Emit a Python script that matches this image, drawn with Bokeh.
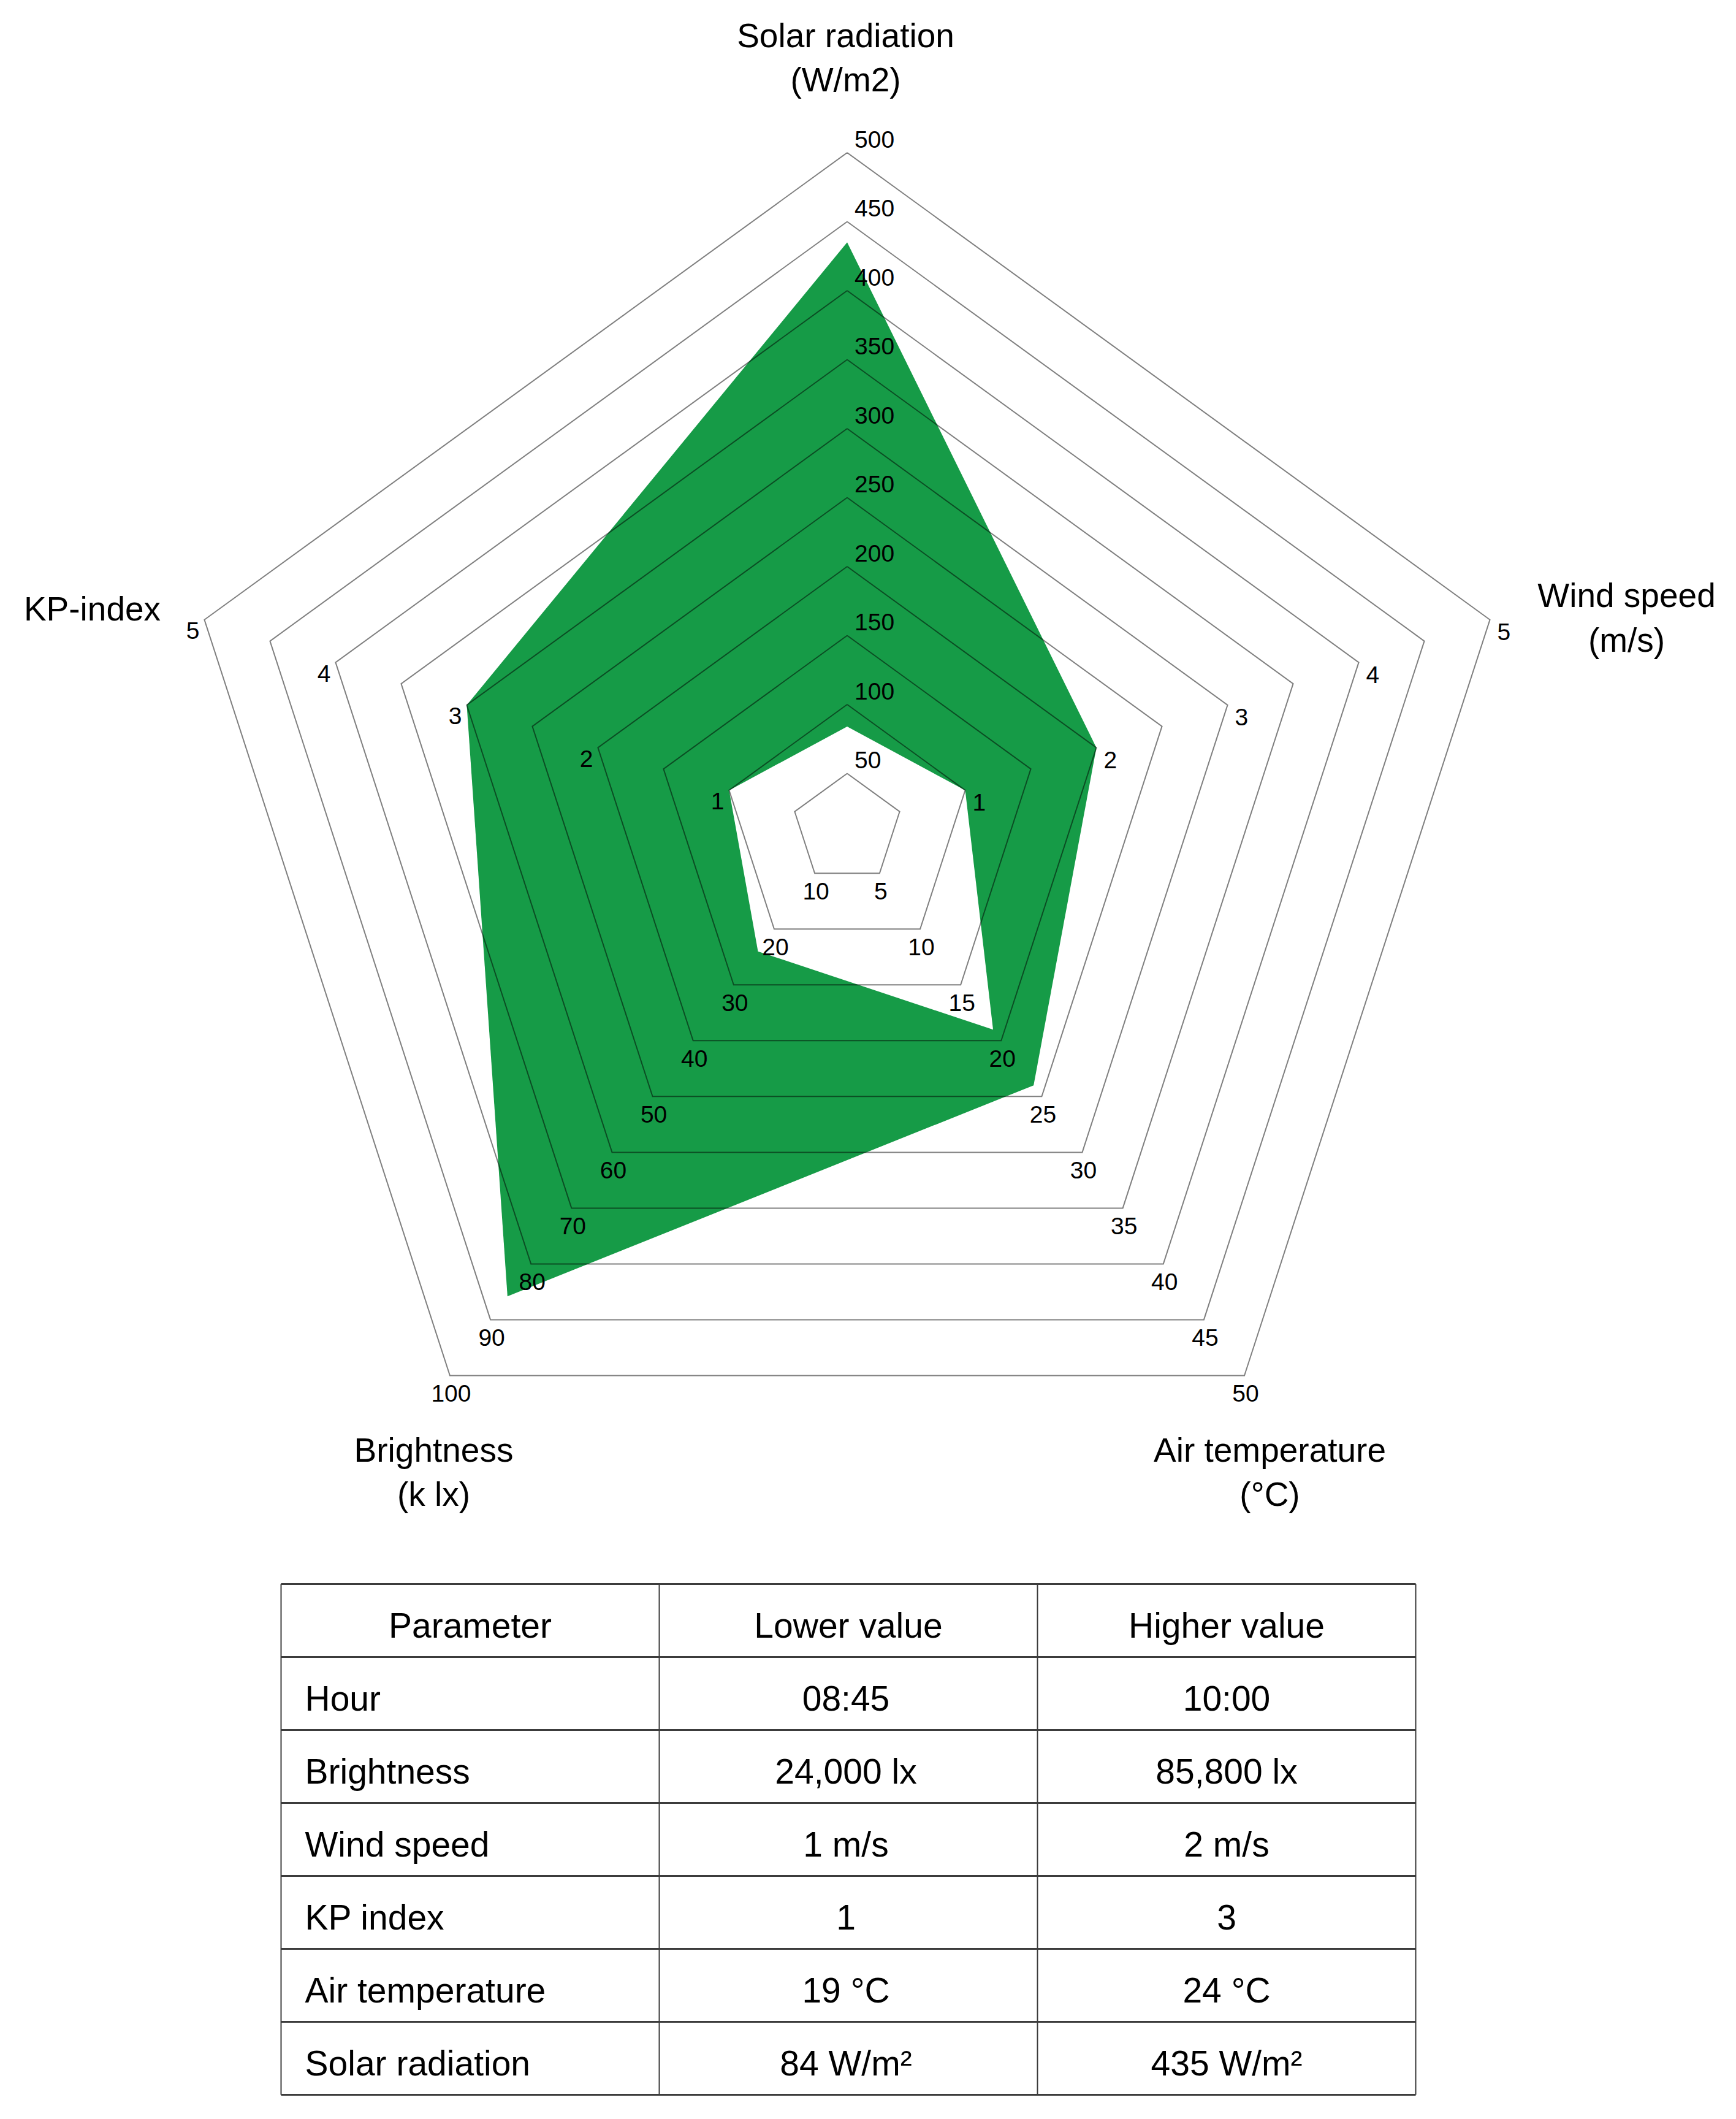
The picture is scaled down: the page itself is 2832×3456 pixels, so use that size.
import numpy as np
from bokeh.plotting import figure
from bokeh.models import Range1d
from bokeh.core.properties import value
from bokeh.embed import file_html
from bokeh.resources import INLINE

# ---------------- data ----------------
axis_names = ["Solar radiation", "Wind speed", "Air temperature", "Brightness", "KP-index"]
axis_units = ["(W/m2)", "(m/s)", "(°C)", "(k lx)", ""]
axis_max = [500, 5, 50, 100, 5]
lower_values = [84, 1, 19, 24, 1]
higher_values = [435, 2, 24, 85.8, 3]

ring_levels = [50, 100, 150, 200, 250, 300, 350, 400, 450, 500]   # gridlines (solar scale)
solar_ticks = [50, 100, 150, 200, 250, 300, 350, 400, 450, 500]
wind_ticks = [1, 2, 3, 4, 5]
air_ticks = [5, 10, 15, 20, 25, 30, 35, 40, 45, 50]
brightness_ticks = [10, 20, 30, 40, 50, 60, 70, 80, 90, 100]
kp_ticks = [1, 2, 3, 4, 5]

table_header = ["Parameter", "Lower value", "Higher value"]
table_params = ["Hour", "Brightness", "Wind speed", "KP index", "Air temperature", "Solar radiation"]
table_lower = ["08:45", "24,000 lx", "1 m/s", "1", "19 °C", "84 W/m²"]
table_higher = ["10:00", "85,800 lx", "2 m/s", "3", "24 °C", "435 W/m²"]

# ---------------- layout ----------------
W, H = 2816, 3440
CX, CY, R = 1381.5, 1351.0, 1102.5
R_MIN = 0.02          # radial axis starts slightly above zero
FONT = value("Liberation Sans")
GREEN = "#169B47"

angles = [np.pi / 2 - 2 * np.pi * i / 5 for i in range(5)]


def radial(frac):
    return R * (frac - R_MIN) / (1 - R_MIN)


def point(i, frac):
    r = radial(frac)
    return CX + r * np.cos(angles[i]), CY - r * np.sin(angles[i])


p = figure(width=W, height=H, output_backend="svg", toolbar_location=None,
           x_range=Range1d(0, W), y_range=Range1d(H, 0),
           min_border=0, outline_line_color=None,
           background_fill_color="white", border_fill_color="white")
p.axis.visible = False
p.grid.visible = False

# filled areas
hx, hy = zip(*[point(i, higher_values[i] / axis_max[i]) for i in range(5)])
lx, ly = zip(*[point(i, lower_values[i] / axis_max[i]) for i in range(5)])
p.patch(list(hx), list(hy), fill_color=GREEN, line_color=None)
p.patch(list(lx), list(ly), fill_color="white", line_color=None)

# rings
ring_xs, ring_ys = [], []
for lv in ring_levels:
    pts = [point(i, lv / ring_levels[-1]) for i in range(5)]
    pts.append(pts[0])
    ring_xs.append([q[0] for q in pts])
    ring_ys.append([q[1] for q in pts])
p.multi_line(ring_xs, ring_ys, line_color="black", line_alpha=0.5, line_width=2,
             line_join="miter")

# tick labels for each axis
tick_sets = [
    (0, solar_ticks, 500, 12, -22, "left"),
    (1, wind_ticks, 5, 12, 20, "left"),
    (2, air_ticks, 50, 2, 29, "center"),
    (3, brightness_ticks, 100, 2, 29, "center"),
    (4, kp_ticks, 5, -8, 18, "right"),
]
for i, ticks, mx, dx, dy, align in tick_sets:
    xs, ys = [], []
    for t in ticks:
        x, y = point(i, t / mx)
        xs.append(x + dx)
        ys.append(y + dy)
    p.text(xs, ys, text=[str(t) for t in ticks], text_font=FONT, text_font_size="39px",
           text_color="black", text_baseline="middle", text_align=align)

# axis titles
title_pos = [(1379, 57, 129), (2653, 970, 1043), (2071, 2364, 2436), (707, 2364, 2436), (150, 992, None)]
for i in range(5):
    tx, y1, y2 = title_pos[i]
    p.text([tx], [y1], text=[axis_names[i]], text_font=FONT, text_font_size="55px",
           text_color="black", text_align="center", text_baseline="middle")
    if axis_units[i]:
        p.text([tx], [y2], text=[axis_units[i]], text_font=FONT, text_font_size="55px",
               text_color="black", text_align="center", text_baseline="middle")

# ---------------- table ----------------
T_LEFT, T_TOP, COL_W, ROW_H = 458, 2583, 617, 119
n_rows = len(table_params) + 1
n_cols = len(table_header)
T_RIGHT = T_LEFT + n_cols * COL_W
T_BOTTOM = T_TOP + n_rows * ROW_H
hy_lines = [T_TOP + k * ROW_H for k in range(n_rows + 1)]
p.segment([T_LEFT] * len(hy_lines), hy_lines, [T_RIGHT] * len(hy_lines), hy_lines,
          line_color="#3c3c3c", line_width=3)
vx_lines = [T_LEFT + j * COL_W for j in range(n_cols + 1)]
p.segment(vx_lines, [T_TOP] * len(vx_lines), vx_lines, [T_BOTTOM] * len(vx_lines),
          line_color="#3c3c3c", line_width=2)

TF = "57px"
col_centers = [T_LEFT + (j + 0.5) * COL_W for j in range(n_cols)]
row_centers = [T_TOP + (k + 0.5) * ROW_H + 8 for k in range(n_rows)]
p.text(col_centers, [row_centers[0]] * n_cols, text=table_header, text_font=FONT,
       text_font_size=TF, text_color="black", text_align="center", text_baseline="middle")
p.text([T_LEFT + 39] * len(table_params), row_centers[1:], text=table_params, text_font=FONT,
       text_font_size=TF, text_color="black", text_align="left", text_baseline="middle")
p.text([col_centers[1] - 4] * len(table_lower), row_centers[1:], text=table_lower, text_font=FONT,
       text_font_size=TF, text_color="black", text_align="center", text_baseline="middle")
p.text([col_centers[2]] * len(table_higher), row_centers[1:], text=table_higher, text_font=FONT,
       text_font_size=TF, text_color="black", text_align="center", text_baseline="middle")

open("out.html", "w").write(file_html(p, INLINE))
